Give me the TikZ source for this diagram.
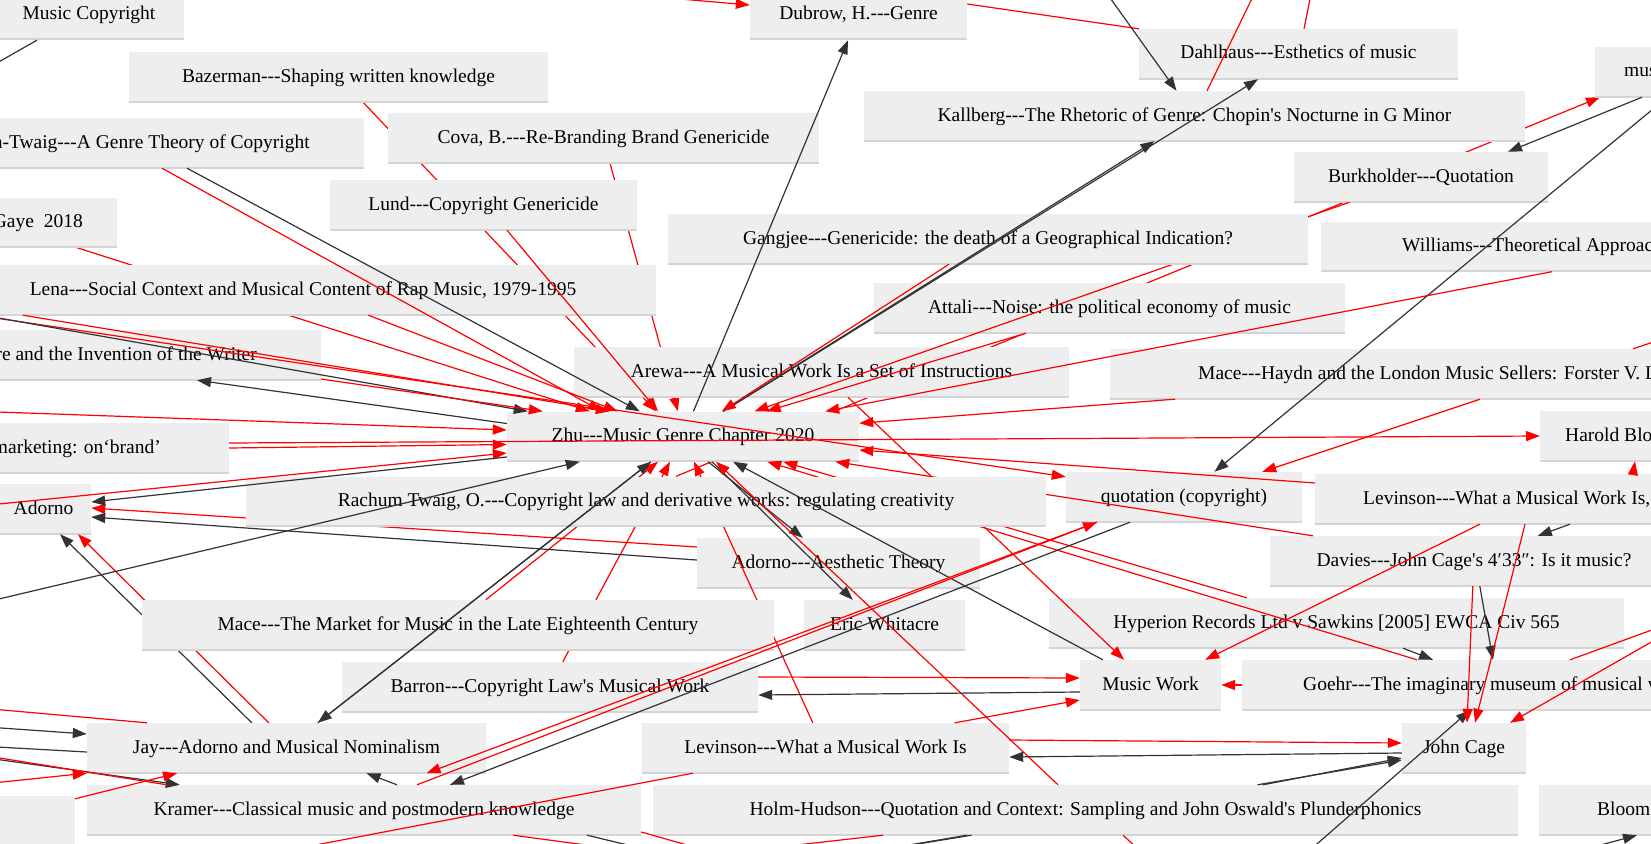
\documentclass[tikz,border=0pt]{standalone}
\usepackage{fontspec}
\newfontfamily\reffont{Liberation Serif}
\usetikzlibrary{arrows.meta,calc}
\definecolor{BoxFill}{RGB}{238,238,238}
\definecolor{BoxEdge}{RGB}{212,212,212}
\definecolor{LinkRed}{RGB}{255,0,0}
\definecolor{LinkDark}{RGB}{51,51,51}
\pgfdeclarelayer{bg}
\pgfdeclarelayer{under}
\pgfdeclarelayer{mid}
\pgfdeclarelayer{top}
\pgfdeclarelayer{over}
\pgfsetlayers{bg,under,main,mid,top,over}
\tikzset{
  refbox/.style={fill=BoxFill,minimum height=50pt,inner sep=0pt,
    text height=1.0em,text depth=0pt,
    font=\reffont\fontsize{19.5pt}{23pt}\selectfont,
    path picture={\draw[BoxEdge,line width=3pt]
      (path picture bounding box.south west) -- (path picture bounding box.south east);}},
  cutleft/.style={refbox,anchor=east,inner xsep=#1},
  cutright/.style={refbox,anchor=west,inner xsep=#1},
  redlink/.style={draw=LinkRed,line width=1.2pt,-{Triangle[length=14pt,width=10pt]}},
  darklink/.style={draw=LinkDark,line width=1.2pt,-{Triangle[length=14pt,width=10pt]}},
  redplain/.style={draw=LinkRed,line width=1.2pt},
}

\begin{document}
\begin{tikzpicture}[x=1pt,y=-1pt]
  \useasboundingbox (0,0) rectangle (1651,843);
  \begin{pgfonlayer}{bg}
    \fill[white] (0,0) rectangle (1651,843);
  \end{pgfonlayer}

  % reference boxes
  \node[refbox,minimum width=189pt] (mc) at (89,15) {Music Copyright};
  \node[refbox,minimum width=217pt] (dub) at (858.5,15) {Dubrow, H.---Genre};
  \node[refbox,minimum width=319pt] (dahl) at (1298.5,54) {Dahlhaus---Esthetics of music};
  \node[cutright=29pt] (mus) at (1595,72) {musical borrowing};
  \node[refbox,minimum width=419pt] (baz) at (338.5,77) {Bazerman---Shaping written knowledge};
  \node[refbox,minimum width=661pt] (kall) at (1194.5,116) {Kallberg---The Rhetoric of Genre: Chopin's Nocturne in G Minor};
  \node[refbox,minimum width=431pt] (cova) at (603.5,138) {Cova, B.---Re-Branding Brand Genericide};
  \node[cutleft=54pt] (tw) at (364,143) {n-Twaig---A Genre Theory of Copyright};
  \node[refbox,minimum width=254pt] (burk) at (1421,177) {Burkholder---Quotation};
  \node[refbox,minimum width=307pt] (lund) at (483.5,205) {Lund---Copyright Genericide};
  \node[cutleft=34pt] (gaye) at (117,222.5) {Gaye\ \ 2018};
  \node[cutright=81pt] (will) at (1321,246.5) {Williams---Theoretical Approaches to Quotation in Hip-Hop Recordings};
  \node[refbox,minimum width=706pt] (lena) at (303,290) {Lena---Social Context and Musical Content of Rap Music, 1979-1995};
  \node[refbox,minimum width=471pt] (att) at (1109.5,308) {Attali---Noise: the political economy of music};
  \node[cutleft=64pt] (inv) at (321,355) {re and the Invention of the Writer};
  \node[refbox,minimum width=495pt] (arewa) at (821.5,372) {Arewa---A Musical Work Is a Set of Instructions};
  \node[cutright=88pt] (haydn) at (1110,374) {Mace---Haydn and the London Music Sellers: Forster V. Longman \& Broderip};
  \node[refbox,minimum width=352pt] (zhu) at (683,436.5) {Zhu---Music Genre Chapter 2020};
  \node[cutright=25pt] (bloomh) at (1540,436) {Harold Bloom};
  \node[cutleft=68pt] (mkt) at (229,448) {marketing: on‘brand’};
  \node[refbox,minimum width=236pt] (quot) at (1184,497) {quotation (copyright)};
  \node[cutright=48pt] (levag) at (1315,499) {Levinson---What a Musical Work Is, Again};
  \node[refbox,minimum width=95pt] (ado) at (43.5,509) {Adorno};
  \node[refbox,minimum width=408pt] (davies) at (1474,561) {Davies---John Cage's 4′33″: Is it music?};
  \node[refbox,minimum width=283pt] (adat) at (838.5,563) {Adorno---Aesthetic Theory};
  \node[refbox,minimum width=575pt] (hyp) at (1336.5,623) {Hyperion Records Ltd v Sawkins [2005] EWCA Civ 565};
  \node[refbox,minimum width=161pt] (eric) at (884.5,625) {Eric Whitacre};
  \node[refbox,minimum width=141pt] (mw) at (1150.5,685) {Music Work};
  \node[cutright=61pt] (goehr) at (1242,685) {Goehr---The imaginary museum of musical works};
  \node[refbox,minimum width=416pt] (barron) at (550,687) {Barron---Copyright Law's Musical Work};
  \node[refbox,minimum width=399pt] (jay) at (286.5,748) {Jay---Adorno and Musical Nominalism};
  \node[refbox,minimum width=367pt] (lev) at (825.5,748) {Levinson---What a Musical Work Is};
  \node[refbox,minimum width=124pt] (cage) at (1464,748) {John Cage};
  \node[refbox,minimum width=554pt] (kramer) at (364,810) {Kramer---Classical music and postmodern knowledge};
  \node[refbox,minimum width=865pt] (holm) at (1085.5,810) {Holm-Hudson---Quotation and Context: Sampling and John Oswald's Plunderphonics};
  \node[cutright=58pt] (bloom) at (1539,810) {Bloom---The Anxiety of Influence};
  \node[refbox,minimum width=150pt,anchor=east] (blbox) at (75,821) {};
  \begin{pgfonlayer}{top}
    \node[refbox,minimum width=640pt] (gang) at (988,239) {Gangjee---Genericide: the death of a Geographical Indication?};
    \node[refbox,minimum width=800pt] (rtw) at (646,501.5) {Rachum Twaig, O.---Copyright law and derivative works: regulating creativity};
    \node[refbox,minimum width=632pt] (macem) at (458,625) {Mace---The Market for Music in the Late Eighteenth Century};
  \end{pgfonlayer}

  % free ends outside the frame
  \coordinate (offDub) at (400,-25);
  \coordinate (offKall) at (1040,-100);
  \coordinate (offTopA) at (1300,-100);
  \coordinate (offTopB) at (1330,-100);
  \coordinate (offMC) at (-100,118);
  \coordinate (offLq) at (-200,289);
  \coordinate (offLb) at (-200,283);
  \coordinate (offLh) at (-200,405);
  \coordinate (offLj) at (-200,524);
  \coordinate (offLn) at (-200,646);
  \coordinate (offRh) at (1800,293);
  \coordinate (offRc) at (1800,557);
  \coordinate (offRg) at (1800,576);
  \coordinate (offBg) at (1230,920);
  \coordinate (offBb) at (1545,860);
  \coordinate (offB1) at (200,867);
  \coordinate (offJ1) at (-200,714);
  \coordinate (offJ2) at (-200,736);
  \coordinate (offJ3) at (-200,692);
  \coordinate (offJ4) at (-200,803);
  \coordinate (offK1) at (-200,732);
  \coordinate (offK2) at (-200,726);
  \coordinate (offKa) at (698,860);
  \coordinate (offKb) at (690,860);
  \coordinate (offKc) at (740,860);
  \coordinate (offHa) at (700,856);
  \coordinate (offHb) at (850,855);
  \coordinate (offHc) at (1150,860);

  % links hidden under the boxes
  \begin{pgfonlayer}{under}
    \draw[redlink] ([xshift=24.5pt]baz.south) -- ([xshift=-27pt]zhu.north);
    \draw[redlink] ([xshift=6.5pt]cova.south) -- ([xshift=-5pt]zhu.north);
    \draw[redlink] ([xshift=-40pt]gaye.south east) -- ([xshift=83pt]zhu.north west);
    \draw[redlink] ([xshift=30pt]rtw.north) -- ([xshift=5pt]mus.south west);
    \draw[redplain] ([yshift=11pt]dub.east) -- (dahl.north west);
  \end{pgfonlayer}

  % links under the upper boxes
  \begin{pgfonlayer}{mid}
    \draw[redlink] (burk) -- (zhu);
    \draw[redlink] ([yshift=16pt]adat.west) -- ([yshift=1pt]ado.east);
    \draw[darklink] ([xshift=165pt]jay.north west) -- ([xshift=16.5pt]ado.south);
    \draw[redlink] ([xshift=182pt]jay.north west) -- ([xshift=34.5pt]ado.south);
    \draw[redlink] ([xshift=344pt]macem.north west) -- ([xshift=-25pt]zhu.south);
    \draw[redlink] ([xshift=221pt]barron.north west) -- ([xshift=-13pt]zhu.south);
    \draw[redlink] ([xshift=43pt]davies.north west) -- ([xshift=-24pt]zhu.south east);
    \draw[redlink] ([xshift=198pt]hyp.north west) -- ([xshift=-76pt]zhu.south east);
    \draw[redlink] ([xshift=175pt]goehr.north west) -- ([xshift=-92pt]zhu.south east);
    \draw[redlink] (arewa) -- (mw);
    \draw[redlink] ([xshift=171pt]lev.north west) -- ([xshift=11pt]zhu.south);
  \end{pgfonlayer}

  % links over everything
  \begin{pgfonlayer}{over}
    \draw[redlink] (offDub) -- ([yshift=10pt]dub.west);
    \draw[darklink] (offKall) -- (kall);
    \draw[redlink] ([xshift=12.5pt]kall.north) -- (offTopA);
    \draw[redlink] ([xshift=5.5pt]dahl.north) -- (offTopB);
    \draw[darklink] (zhu) -- (kall);
    \draw[darklink] (zhu) -- (dahl);
    \draw[darklink] (zhu) -- (dub);
    \draw[redlink] (gang) -- (zhu);
    \draw[darklink] ([xshift=47pt]mus.south west) -- ([xshift=87pt]burk.north);
    \draw[darklink] (mus) -- (quot);
    \draw[redlink] (haydn) -- (zhu);
    \draw[redlink] ([xshift=231pt]will.south west) -- ([xshift=-34pt]zhu.north east);
    \draw[redlink] (att) -- (zhu);
    \draw[redlink] ([yshift=16pt]levag.west) -- ([yshift=-13.5pt]zhu.east);
    \draw[redlink] ([yshift=5pt]mkt.east) -- (bloomh.west);
    \draw[redlink] (mkt.east) -- ([yshift=-8pt]zhu.west);
    \draw[redlink] (offLq) -- ([yshift=-5pt]quot.north west);
    \draw[darklink] (offLb) -- ([xshift=21pt]zhu.north west);
    \draw[redlink] ([xshift=73pt]lena.south west) -- ([xshift=103pt]zhu.north west);
    \draw[redlink] ([yshift=-24pt]inv.east) -- ([xshift=36pt]zhu.north west);
    \draw[darklink] ([yshift=13pt]zhu.west) -- ([xshift=-124pt]inv.south east);
    \draw[redlink] (offLh) -- ([yshift=6.5pt]zhu.west);
    \draw[redlink] (offLj) -- ([yshift=-16.5pt]zhu.west);
    \draw[darklink] ([yshift=-20.5pt]zhu.west) -- ([yshift=7pt]ado.east);
    \draw[darklink] ([yshift=3pt]adat.west) -- ([yshift=-8pt]ado.east);
    \draw[darklink] (offLn) -- ([xshift=73pt]zhu.south west);
    \draw[darklink] ([xshift=29pt]zhu.south) -- ([xshift=49pt]eric.north west);
    \draw[darklink] ([xshift=25pt]zhu.south) -- ([xshift=106pt]adat.north west);
    \draw[darklink] ([xshift=23pt]mw.north west) -- ([xshift=50pt]zhu.south);
    \draw[darklink] ([xshift=-32pt]zhu.south) -- ([xshift=231pt]jay.north west);
    \draw[darklink] ([xshift=231pt]jay.north west) -- ([xshift=-32pt]zhu.south);
    \draw[redlink] ([xshift=370pt]haydn.south west) -- ([xshift=-40pt]quot.north east);
    \draw[redlink] ([xshift=318pt]levag.north west) -- ([xshift=95pt]bloomh.south west);
    \draw[redlink] (lena) -- (zhu);
    \draw[redlink] ([xshift=-202pt]tw.south east) -- ([xshift=95pt]zhu.north west);
    \draw[darklink] ([xshift=-177pt]tw.south east) -- ([xshift=133pt]zhu.north west);
    \draw[redlink] ([xshift=23.5pt]lund.south) -- ([xshift=-25pt]zhu.north);
    \draw[darklink] ([xshift=-52pt]mc.south) -- (offMC);
    \draw[darklink] ([xshift=-54pt]quot.south) -- ([xshift=86pt]kramer.north);
    \draw[redlink] ([xshift=53pt]kramer.north) -- ([xshift=-87pt]quot.south);
    \draw[redlink] ([xshift=-87pt]quot.south) -- ([xshift=140pt]jay.south);
    \draw[darklink] ([xshift=33pt]kramer.north) -- ([xshift=80pt]jay.south);
    \draw[redlink] ([xshift=-27.5pt]holm.north) -- ([xshift=33pt]zhu.south);
    \draw[redlink] ([yshift=10pt]barron.east) -- ([yshift=7pt]mw.west);
    \draw[darklink] ([yshift=-7pt]mw.west) -- ([yshift=-8pt]barron.east);
    \draw[redlink] ([xshift=313pt]lev.north west) -- ([yshift=-15pt]mw.west);
    \draw[redlink] ([yshift=8pt]lev.east) -- ([yshift=5pt]cage.west);
    \draw[darklink] ([yshift=-5pt]cage.west) -- ([yshift=-9pt]lev.east);
    \draw[darklink] ([xshift=177.5pt]holm.north) -- ([yshift=-10pt]cage.west);
    \draw[darklink] ([xshift=172pt]holm.north) -- ([yshift=-12pt]cage.west);
    \draw[darklink] (offBg) -- ([xshift=228pt]goehr.south west);
    \draw[redlink] ([xshift=203pt]davies.south west) -- ([xshift=3pt]cage.north);
    \draw[darklink] ([xshift=210pt]davies.south west) -- ([xshift=251pt]goehr.north west);
    \draw[redlink] ([xshift=210pt]levag.south west) -- ([xshift=11pt]cage.north);
    \draw[redlink] (offRc) -- ([xshift=46pt]cage.north);
    \draw[redlink] ([xshift=328pt]goehr.north west) -- (offRg);
    \draw[redlink] ([xshift=165pt]levag.south west) -- ([xshift=-16pt]mw.north east);
    \draw[darklink] ([xshift=255pt]levag.south west) -- ([xshift=268pt]davies.north west);
    \draw[redlink] (goehr.west) -- (mw.east);
    \draw[darklink] ([xshift=66.5pt]hyp.south) -- ([xshift=191pt]goehr.north west);
    \draw[redlink] ([xshift=523pt]haydn.north west) -- (offRh);
    \draw[redlink] ([xshift=51pt]lev.south west) -- (offB1);
    \draw[darklink] (offJ1) -- ([yshift=14pt]jay.west);
    \draw[darklink] ([yshift=-4pt]jay.west) -- (offJ2);
    \draw[redlink] ([xshift=60pt]jay.north west) -- (offJ3);
    \draw[redlink] (offJ4) -- (jay.south west);
    \draw[darklink] (offK1) -- ([xshift=93pt]kramer.north west);
    \draw[redlink] ([xshift=80pt]kramer.north west) -- (offK2);
    \draw[redlink] ([yshift=-3pt]blbox.north east) -- ([xshift=-109.5pt]jay.south);
    \draw[redlink] ([xshift=149pt]kramer.south) -- (offKa);
    \draw[darklink] ([xshift=223pt]kramer.south) -- (offKb);
    \draw[redlink] ([yshift=-22pt]kramer.east) -- (offKc);
    \draw[redlink] ([xshift=-202.5pt]holm.south) -- (offHa);
    \draw[darklink] ([xshift=-118.5pt]holm.south) -- (offHb);
    \draw[darklink] ([xshift=-114pt]holm.south) -- (offHb);
    \draw[redlink] ([xshift=37.5pt]holm.south) -- (offHc);
    \draw[darklink] (offBb) -- ([xshift=98pt]bloom.south west);
  \end{pgfonlayer}
\end{tikzpicture}
\end{document}
